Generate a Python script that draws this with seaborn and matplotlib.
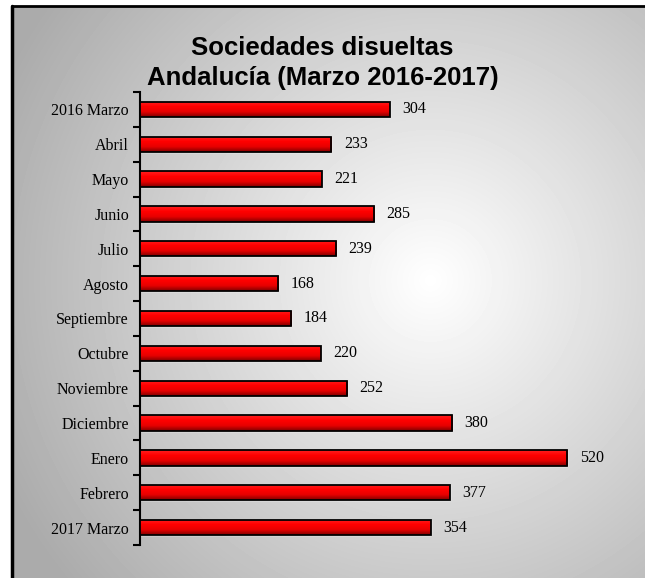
import numpy as np
import pandas as pd
import seaborn as sns
import matplotlib.pyplot as plt
from matplotlib.colors import LinearSegmentedColormap
from matplotlib.patches import Rectangle
from matplotlib.lines import Line2D

# data
meses = ['2016 Marzo', 'Abril', 'Mayo', 'Junio', 'Julio', 'Agosto', 'Septiembre',
         'Octubre', 'Noviembre', 'Diciembre', 'Enero', 'Febrero', '2017 Marzo']
sociedades = [304, 233, 221, 285, 239, 168, 184, 220, 252, 380, 520, 377, 354]
titulo = 'Sociedades disueltas\nAndalucía (Marzo 2016-2017)'

df = pd.DataFrame({'mes': meses, 'sociedades': sociedades})

sns.set_style('white')
W, H = 645, 578
fig = plt.figure(figsize=(W / 100, H / 100), dpi=100)

# fondo con degradado radial
fondo = fig.add_axes([0, 0, 1, 1], zorder=-10)
yy, xx = np.mgrid[0:H, 0:W]
r = np.sqrt((xx - 430) ** 2 + (yy - 280) ** 2)
gris = np.clip(1 - 0.00070 * r, 0.67, 1)
gris[(xx < 12) | (yy < 6)] = 1.0
fondo.imshow(gris, cmap='gray', vmin=0, vmax=1, aspect='auto',
             extent=[0, W, H, 0], interpolation='bilinear')
fondo.set_xlim(0, W)
fondo.set_ylim(H, 0)
fondo.axis('off')

# marco
fig.add_artist(Line2D([12 / W, 12 / W], [0, 1 - 6 / H], color='black', lw=2.5,
                      transform=fig.transFigure))
fig.add_artist(Line2D([12 / W, 1], [1 - 6 / H, 1 - 6 / H], color='black', lw=2,
                      transform=fig.transFigure))

ax = fig.add_axes([140 / W, 1 - 545 / H, 493 / W, 453 / H])
ax.patch.set_alpha(0)
sns.barplot(data=df, x='sociedades', y='mes', orient='h', color='red',
            width=0.44, ax=ax)

# degradado en las barras
rojo = LinearSegmentedColormap.from_list('rojo', ['#ff2020', '#ff0000', '#e80000', '#800000'])
grad = np.linspace(0, 1, 64).reshape(-1, 1)
for p in list(ax.patches):
    x0, y0 = p.get_x(), p.get_y()
    w, h = p.get_width(), p.get_height()
    im = ax.imshow(grad, cmap=rojo, aspect='auto', extent=[x0, x0 + w, y0 + h, y0],
                   zorder=3, interpolation='bilinear')
    im.set_clip_path(p)
    ax.add_patch(Rectangle((x0, y0), w, h, fill=False, edgecolor='black',
                           lw=1.3, zorder=4))
ax.set_xlim(0, 600)
ax.set_ylim(len(meses) - 0.5, -0.5)

# etiquetas de valor
for i, v in enumerate(sociedades):
    ax.text(v + 15, i, str(v), va='center', ha='left', fontsize=11.5,
            family='Liberation Serif', color='black')

# ejes
for s in ['top', 'right', 'bottom']:
    ax.spines[s].set_visible(False)
ax.spines['left'].set_linewidth(1.5)
ax.spines['left'].set_color('black')
ax.set_xticks([])
ax.set_yticks(range(len(meses)))
ax.set_yticklabels(meses, family='Liberation Serif', fontsize=11.5, color='black')
ax.tick_params(axis='y', which='major', left=True, length=0, pad=8)
ax.set_yticks(np.arange(-0.5, len(meses), 1), minor=True)
ax.tick_params(axis='y', which='minor', left=True, length=5, width=1.5,
               direction='out', color='black')
ax.set_xlabel('')
ax.set_ylabel('')

fig.text(0.5, 1 - 63 / H, titulo, ha='center', va='center', fontsize=18.5,
         fontweight='bold', family='Liberation Sans', linespacing=1.35,
         color='black')

fig.savefig('out.png', dpi=100)
